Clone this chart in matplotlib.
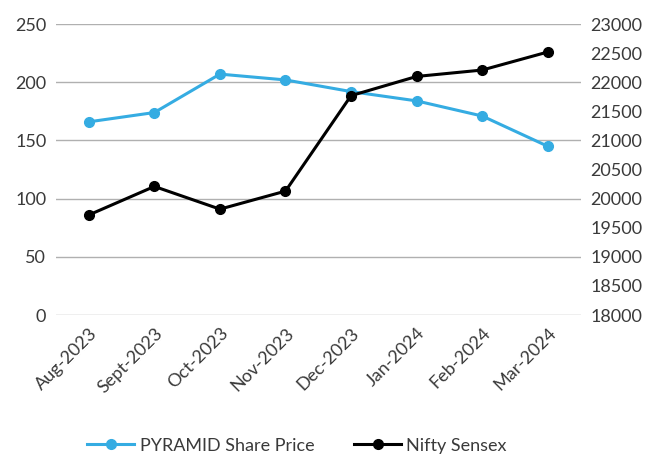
import matplotlib.pyplot as plt

months = ['Aug-2023', 'Sept-2023', 'Oct-2023', 'Nov-2023', 'Dec-2023',
          'Jan-2024', 'Feb-2024', 'Mar-2024']
pyramid = [166, 174, 207, 202, 192, 184, 171, 145]
nifty = [19720, 20210, 19820, 20130, 21770, 22100, 22210, 22520]

plt.rcParams['font.family'] = ['Lato', 'DejaVu Sans']
txt = '#3a3a3a'

fig = plt.figure(figsize=(6.46, 4.54), dpi=100)
ax = fig.add_axes([0.0867, 0.306, 0.812, 0.641])
ax2 = ax.twinx()

x = list(range(len(months)))
l1, = ax.plot(x, pyramid, color='#35ACE2', lw=2.2, marker='o', ms=7,
              label='PYRAMID Share Price', zorder=3)
l2, = ax2.plot(x, nifty, color='black', lw=2.2, marker='o', ms=7,
               label='Nifty Sensex', zorder=3)

ax.set_xlim(-0.5, 7.5)
ax.set_ylim(0, 250)
ax.set_yticks(range(0, 251, 50))
ax2.set_ylim(18000, 23000)
ax2.set_yticks(range(18000, 23001, 500))
ax.yaxis.grid(True, color='#b0b0b0', lw=1)
ax.set_axisbelow(True)

ax.set_xticks(x)
ax.set_xticklabels(months, rotation=45, ha='right', rotation_mode='anchor')

for a in (ax, ax2):
    for s in a.spines.values():
        s.set_visible(False)
    a.tick_params(length=0, labelsize=13, colors=txt, pad=7)

fig.legend(handles=[l1, l2], loc='lower center', ncol=2, frameon=False,
           fontsize=13, labelcolor=txt, bbox_to_anchor=(0.46, -0.035),
           handlelength=2.6, columnspacing=2.2, handletextpad=0.3)

fig.savefig('out.png', dpi=100)
